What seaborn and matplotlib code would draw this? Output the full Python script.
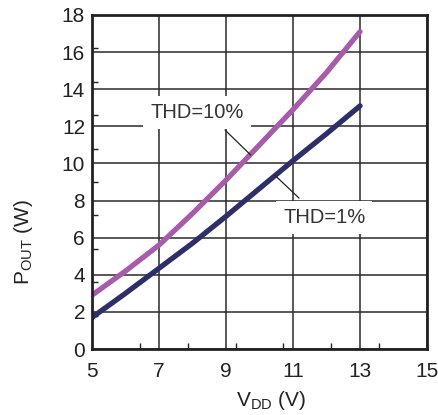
import matplotlib
matplotlib.use("Agg")
import matplotlib.pyplot as plt
import numpy as np
import pandas as pd
import seaborn as sns

# supply voltage (V) and output power (W)
vdd = [5, 6, 7, 8, 9, 10, 11, 12, 13]
pout_thd10 = [2.9, 4.2, 5.6, 7.3, 9.1, 11.0, 12.9, 14.9, 17.1]
pout_thd1 = [1.7, 3.0, 4.35, 5.7, 7.15, 8.65, 10.15, 11.6, 13.1]

series_names = ["THD=10%", "THD=1%"]
series_colors = ["#a75ba9", "#2e2f69"]

x_ticks = [5, 7, 9, 11, 13, 15]
y_ticks = [0, 2, 4, 6, 8, 10, 12, 14, 16, 18]

# annotation text position and leader line (start, end) in data units
label_pos = {"THD=10%": (8.13, 12.75), "THD=1%": (11.93, 7.1)}
leader = {"THD=10%": ((8.97, 11.8), (9.74, 10.45)),
          "THD=1%": ((10.46, 9.36), (11.18, 8.13))}

df = pd.DataFrame({
    "VDD": vdd * 2,
    "POUT": pout_thd10 + pout_thd1,
    "THD": [series_names[0]] * len(vdd) + [series_names[1]] * len(vdd),
})

sns.set_style("white")
plt.rcParams["font.family"] = ["Liberation Sans", "DejaVu Sans"]
plt.rcParams["mathtext.fontset"] = "custom"
plt.rcParams["mathtext.rm"] = "Liberation Sans"

fig = plt.figure(figsize=(4.38, 4.15), dpi=100)
ax = fig.add_axes([0.210, 0.159, 0.765, 0.805])

sns.lineplot(data=df, x="VDD", y="POUT", hue="THD",
             palette=dict(zip(series_names, series_colors)),
             linewidth=3.8, legend=False, ax=ax, zorder=3)

ax.set_xlim(5, 15)
ax.set_ylim(0, 18)
ax.set_xticks(x_ticks)
ax.set_yticks(y_ticks)
ax.set_xticks(np.linspace(5, 15, 8), minor=True)
ax.set_yticks(np.arange(0, 18.01, 1.8), minor=True)
ax.grid(True, which="major", color="#2a2a2a", linewidth=1.1)
ax.tick_params(which="major", length=0, labelsize=15, colors="#222222")
ax.tick_params(axis="x", which="major", pad=9)
ax.tick_params(axis="y", which="major", pad=5)
ax.tick_params(which="minor", direction="in", length=4, width=1,
               color="#222222", left=True, bottom=True)

for s in ax.spines.values():
    s.set_color("#222222")
    s.set_linewidth(2)
    s.set_zorder(5)

for name in series_names:
    (x0, y0), (x1, y1) = leader[name]
    ax.plot([x0, x1], [y0, y1], color="#222222", linewidth=0.9, zorder=4)
    tx, ty = label_pos[name]
    ax.text(tx, ty, name, fontsize=14.5, color="#333333", ha="center",
            va="center", zorder=2.5,
            bbox=dict(facecolor="white", edgecolor="none",
                      boxstyle="square,pad=0.35"))

ax.set_xlabel(r"V$_{\mathrm{DD}}$ (V)", fontsize=15, color="#222222")
ax.set_ylabel(r"P$_{\mathrm{OUT}}$ (W)", fontsize=15, color="#222222")
ax.xaxis.set_label_coords(0.535, -0.12)
ax.yaxis.set_label_coords(-0.17, 0.32)

fig.savefig("out.png", dpi=100)
